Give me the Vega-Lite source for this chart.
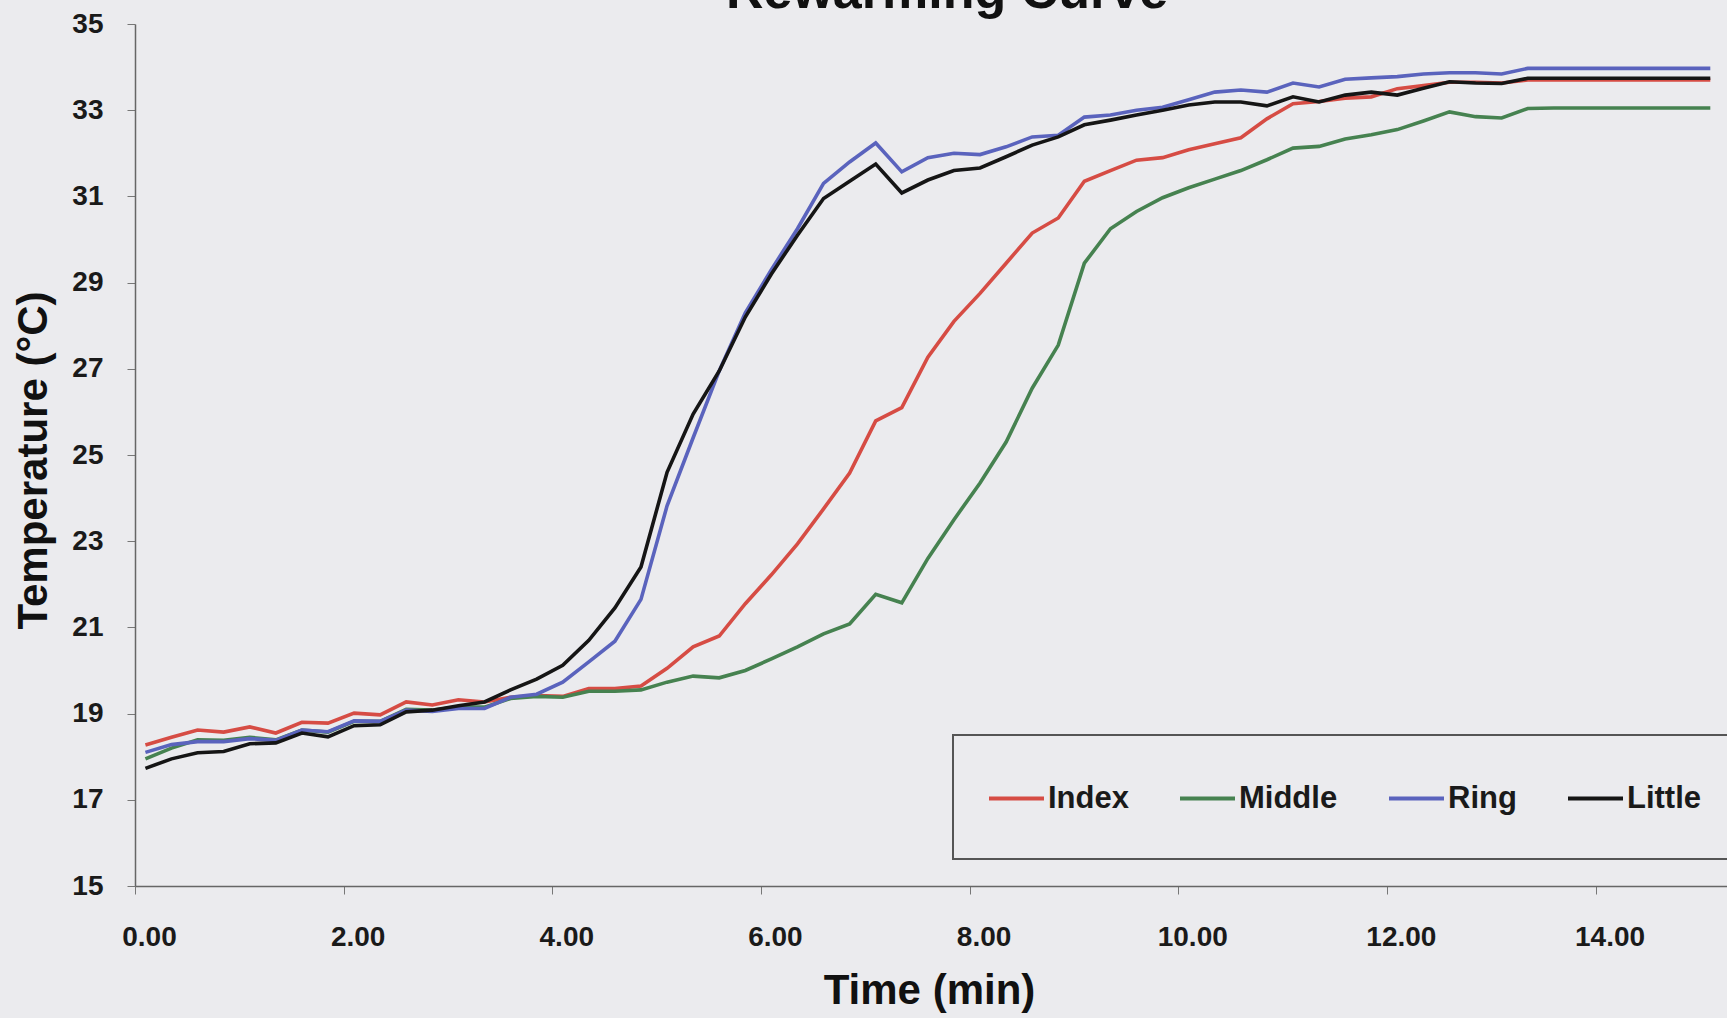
{
  "$schema": "https://vega.github.io/schema/vega-lite/v6.json",
  "width": 1592,
  "height": 862,
  "autosize": {"type": "none"},
  "padding": {"left": 135, "top": 24, "right": 0, "bottom": 132},
  "background": "#ebebee",
  "title": {"text": "Rewarming Curve", "fontSize": 52, "font": "Liberation Sans", "fontWeight": "bold", "color": "#111", "anchor": "middle", "frame": "group", "baseline": "alphabetic", "offset": 11, "dx": 16, "dy": 61},
  "config": {
    "view": {"stroke": null},
    "font": "Liberation Sans",
    "legend": {"strokeWidth": 2},
    "axis": {"labelFont": "Liberation Sans", "labelFontWeight": "bold", "labelFontSize": 28, "labelColor": "#1a1a1a", "titleFont": "Liberation Sans", "titleFontWeight": "bold", "titleFontSize": 42, "titleColor": "#111", "grid": false, "domainColor": "#666", "tickColor": "#777", "tickSize": 8, "domainWidth": 1.5}
  },
  "data": {"values": [
    {"t":0.10,"Index":18.27,"Middle":17.95,"Ring":18.10,"Little":17.73},
    {"t":0.35,"Index":18.45,"Middle":18.20,"Ring":18.28,"Little":17.95},
    {"t":0.60,"Index":18.62,"Middle":18.39,"Ring":18.35,"Little":18.09},
    {"t":0.85,"Index":18.57,"Middle":18.38,"Ring":18.35,"Little":18.12},
    {"t":1.10,"Index":18.69,"Middle":18.45,"Ring":18.42,"Little":18.30},
    {"t":1.35,"Index":18.55,"Middle":18.39,"Ring":18.38,"Little":18.32},
    {"t":1.60,"Index":18.80,"Middle":18.62,"Ring":18.62,"Little":18.55},
    {"t":1.85,"Index":18.78,"Middle":18.57,"Ring":18.58,"Little":18.46},
    {"t":2.10,"Index":19.01,"Middle":18.82,"Ring":18.83,"Little":18.72},
    {"t":2.35,"Index":18.97,"Middle":18.82,"Ring":18.82,"Little":18.74},
    {"t":2.60,"Index":19.27,"Middle":19.10,"Ring":19.08,"Little":19.04},
    {"t":2.85,"Index":19.20,"Middle":19.08,"Ring":19.05,"Little":19.08},
    {"t":3.10,"Index":19.32,"Middle":19.15,"Ring":19.12,"Little":19.18},
    {"t":3.35,"Index":19.27,"Middle":19.15,"Ring":19.12,"Little":19.27},
    {"t":3.60,"Index":19.38,"Middle":19.35,"Ring":19.38,"Little":19.55},
    {"t":3.85,"Index":19.42,"Middle":19.40,"Ring":19.45,"Little":19.80},
    {"t":4.10,"Index":19.40,"Middle":19.38,"Ring":19.73,"Little":20.12},
    {"t":4.35,"Index":19.58,"Middle":19.52,"Ring":20.20,"Little":20.70},
    {"t":4.60,"Index":19.58,"Middle":19.52,"Ring":20.68,"Little":21.45},
    {"t":4.85,"Index":19.64,"Middle":19.55,"Ring":21.65,"Little":22.40},
    {"t":5.10,"Index":20.05,"Middle":19.73,"Ring":23.82,"Little":24.60},
    {"t":5.35,"Index":20.55,"Middle":19.87,"Ring":25.40,"Little":25.95},
    {"t":5.60,"Index":20.80,"Middle":19.83,"Ring":26.95,"Little":26.95},
    {"t":5.85,"Index":21.55,"Middle":20.00,"Ring":28.30,"Little":28.20},
    {"t":6.10,"Index":22.22,"Middle":20.27,"Ring":29.30,"Little":29.20},
    {"t":6.35,"Index":22.94,"Middle":20.55,"Ring":30.25,"Little":30.10},
    {"t":6.60,"Index":23.75,"Middle":20.85,"Ring":31.30,"Little":30.95},
    {"t":6.85,"Index":24.58,"Middle":21.08,"Ring":31.80,"Little":31.35},
    {"t":7.10,"Index":25.79,"Middle":21.77,"Ring":32.24,"Little":31.75},
    {"t":7.35,"Index":26.10,"Middle":21.57,"Ring":31.57,"Little":31.08},
    {"t":7.60,"Index":27.27,"Middle":22.60,"Ring":31.90,"Little":31.38},
    {"t":7.85,"Index":28.10,"Middle":23.50,"Ring":32.00,"Little":31.60},
    {"t":8.10,"Index":28.75,"Middle":24.35,"Ring":31.97,"Little":31.66},
    {"t":8.35,"Index":29.45,"Middle":25.30,"Ring":32.15,"Little":31.92},
    {"t":8.60,"Index":30.15,"Middle":26.55,"Ring":32.38,"Little":32.19},
    {"t":8.85,"Index":30.50,"Middle":27.55,"Ring":32.42,"Little":32.38},
    {"t":9.10,"Index":31.35,"Middle":29.45,"Ring":32.84,"Little":32.66},
    {"t":9.35,"Index":31.60,"Middle":30.25,"Ring":32.89,"Little":32.77},
    {"t":9.60,"Index":31.84,"Middle":30.65,"Ring":33.00,"Little":32.89},
    {"t":9.85,"Index":31.90,"Middle":30.97,"Ring":33.07,"Little":33.00},
    {"t":10.10,"Index":32.08,"Middle":31.20,"Ring":33.24,"Little":33.12},
    {"t":10.35,"Index":32.22,"Middle":31.40,"Ring":33.42,"Little":33.19},
    {"t":10.60,"Index":32.36,"Middle":31.60,"Ring":33.47,"Little":33.19},
    {"t":10.85,"Index":32.80,"Middle":31.85,"Ring":33.42,"Little":33.10},
    {"t":11.10,"Index":33.15,"Middle":32.12,"Ring":33.63,"Little":33.31},
    {"t":11.35,"Index":33.20,"Middle":32.16,"Ring":33.54,"Little":33.19},
    {"t":11.60,"Index":33.28,"Middle":32.33,"Ring":33.72,"Little":33.35},
    {"t":11.85,"Index":33.31,"Middle":32.43,"Ring":33.75,"Little":33.42},
    {"t":12.10,"Index":33.50,"Middle":32.55,"Ring":33.78,"Little":33.35},
    {"t":12.35,"Index":33.57,"Middle":32.75,"Ring":33.84,"Little":33.51},
    {"t":12.60,"Index":33.65,"Middle":32.96,"Ring":33.87,"Little":33.66},
    {"t":12.85,"Index":33.65,"Middle":32.85,"Ring":33.87,"Little":33.63},
    {"t":13.10,"Index":33.63,"Middle":32.82,"Ring":33.84,"Little":33.62},
    {"t":13.35,"Index":33.70,"Middle":33.04,"Ring":33.97,"Little":33.74},
    {"t":13.60,"Index":33.70,"Middle":33.05,"Ring":33.97,"Little":33.74},
    {"t":13.85,"Index":33.70,"Middle":33.05,"Ring":33.97,"Little":33.74},
    {"t":14.10,"Index":33.70,"Middle":33.05,"Ring":33.97,"Little":33.74},
    {"t":14.35,"Index":33.70,"Middle":33.05,"Ring":33.97,"Little":33.74},
    {"t":14.60,"Index":33.70,"Middle":33.05,"Ring":33.97,"Little":33.74},
    {"t":14.85,"Index":33.70,"Middle":33.05,"Ring":33.97,"Little":33.74},
    {"t":15.10,"Index":33.70,"Middle":33.05,"Ring":33.97,"Little":33.74}
  ]},
  "transform": [{"fold": ["Index", "Middle", "Ring", "Little"], "as": ["series", "temp"]}],
  "mark": {"type": "line", "strokeWidth": 3.6, "clip": true},
  "encoding": {
    "x": {"field": "t", "type": "quantitative", "title": "Time (min)",
      "scale": {"domain": [0, 15.26], "nice": false, "zero": false},
      "axis": {"values": [0, 2, 4, 6, 8, 10, 12, 14], "format": ".2f", "labelPadding": 29, "labelOffset": 14, "labelFlush": false, "titleBaseline": "alphabetic", "titleY": 117, "titleX": 794}},
    "y": {"field": "temp", "type": "quantitative", "title": "Temperature (°C)",
      "scale": {"domain": [15, 35], "nice": false, "zero": false},
      "axis": {"values": [15, 17, 19, 21, 23, 25, 27, 29, 31, 33, 35], "labelPadding": 24, "labelFlush": false, "titleAngle": 270, "titleBaseline": "bottom", "titleX": -80, "titleY": 436, "titleAlign": "center"}},
    "color": {"field": "series", "type": "nominal",
      "scale": {"domain": ["Index", "Middle", "Ring", "Little"], "range": ["#d64c44", "#468250", "#5a63bd", "#151515"]},
      "legend": {"title": null, "orient": "none", "direction": "horizontal", "legendX": 818, "legendY": 711,
        "symbolType": "M-1,-1.25M-1,0.67M-1,0L1,0", "symbolSize": 3025, "symbolStrokeWidth": 4, "symbolFillColor": "transparent", "labelFontSize": 31, "labelFont": "Liberation Sans", "labelFontWeight": "bold", "labelColor": "#1a1a1a", "labelOffset": 2, "columnPadding": 43,
        "padding": 34, "strokeColor": "#555", "fillColor": "#ebebee"}}
  }
}
